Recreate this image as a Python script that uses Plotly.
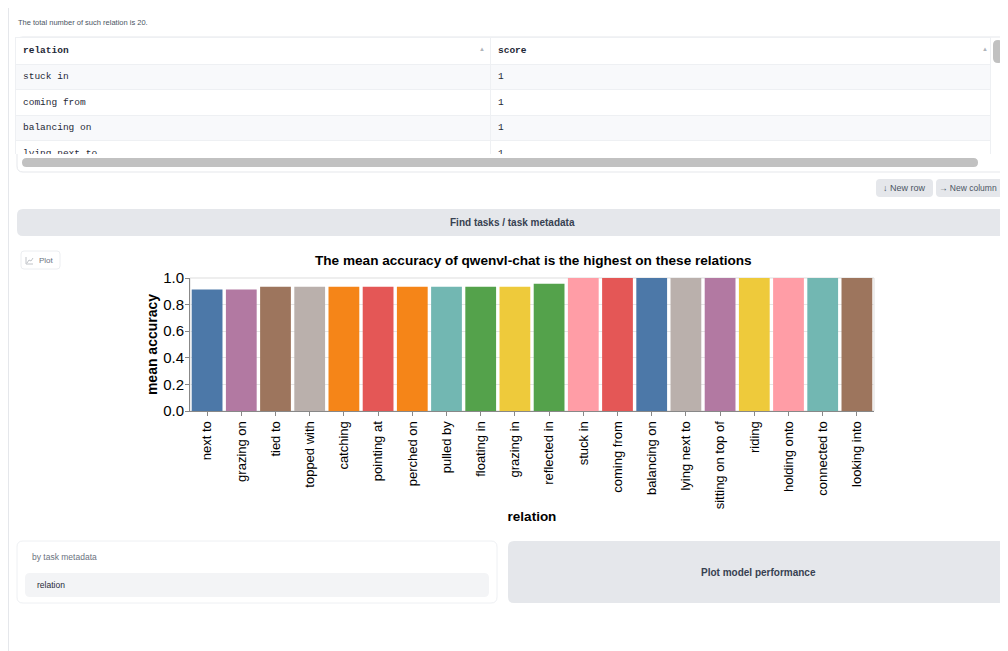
import plotly.graph_objects as go

# ---------------- data ----------------
relations = ["next to", "grazing on", "tied to", "topped with", "catching", "pointing at",
             "perched on", "pulled by", "floating in", "grazing in", "reflected in", "stuck in",
             "coming from", "balancing on", "lying next to", "sitting on top of", "riding",
             "holding onto", "connected to", "looking into"]
mean_accuracy = [0.913, 0.914, 0.935, 0.935, 0.935, 0.935, 0.935, 0.935, 0.935, 0.935, 0.957,
                 1.0, 1.0, 1.0, 1.0, 1.0, 1.0, 1.0, 1.0, 1.0]
y_ticks = [0.0, 0.2, 0.4, 0.6, 0.8, 1.0]
chart_title = "The mean accuracy of qwenvl-chat is the highest on these relations"
info_text = "The total number of such relation is 20."

# styles
bar_colors = ["#4c78a8", "#b279a2", "#9d755d", "#bab0ac", "#f58518", "#e45756", "#f58518",
              "#72b7b2", "#54a24b", "#eeca3b", "#54a24b", "#ff9da6", "#e45756", "#4c78a8",
              "#bab0ac", "#b279a2", "#eeca3b", "#ff9da6", "#72b7b2", "#9d755d"]

# page is offset by the 8px body margin
OFF = 8
W, H = 1008 - OFF, 651 - OFF
SANS = "Liberation Sans, Arial, sans-serif"
MONO = "Liberation Mono, DejaVu Sans Mono, monospace"
UI_TEXT = "#374151"
BORDER = "#e5e7eb"
BTN = "#e5e7eb"

# table rows: sorted by score descending (stable)
order = sorted(range(len(relations)), key=lambda i: -mean_accuracy[i])
table_rel = [relations[i] for i in order]
table_score = [f"{mean_accuracy[i]:g}" for i in order]
stripe = ["#f8f9fb" if k % 2 == 0 else "white" for k in range(len(order))]


def px(x):  # screen x -> paper fraction
    return (x - OFF) / W


def py(y):  # screen y -> paper fraction
    return 1 - (y - OFF) / H


def rrect(x0, y0, x1, y1, r):
    return (f"M {x0+r},{y0} H {x1-r} Q {x1},{y0} {x1},{y0+r} V {y1-r} "
            f"Q {x1},{y1} {x1-r},{y1} H {x0+r} Q {x0},{y1} {x0},{y1-r} "
            f"V {y0+r} Q {x0},{y0} {x0+r},{y0} Z")


fig = go.Figure()

# pixel overlay subplot (x/y) for the surrounding UI, in screen coordinates
fig.add_trace(go.Scatter(x=[], y=[], xaxis="x", yaxis="y", showlegend=False, hoverinfo="skip"))

# bar chart on x2/y2
fig.add_trace(go.Bar(
    x=relations, y=mean_accuracy, xaxis="x2", yaxis="y2",
    marker=dict(color=bar_colors, line=dict(width=0)),
    showlegend=False,
))

# table
fig.add_trace(go.Table(
    domain=dict(x=[px(15), px(990)], y=[py(154), py(37)]),
    columnwidth=[475, 500],
    header=dict(values=["<b>relation</b>", "<b>score</b>"], align="left", height=25,
                fill_color="white", line=dict(color="#eef0f3", width=1),
                font=dict(family=MONO, size=9.5, color="#1f2937")),
    cells=dict(values=[table_rel, table_score], align="left", height=25.5,
               fill_color=[stripe, stripe], line=dict(color="#eef0f3", width=1),
               font=dict(family=MONO, size=9.5, color="#1f2937")),
))

shapes = []
# page left border
shapes.append(dict(type="line", xref="x", yref="y", x0=8.5, x1=8.5, y0=4, y1=651,
                   line=dict(color=BORDER, width=1), layer="below"))
# table frame
shapes.append(dict(type="path", xref="x", yref="y", path=rrect(17, 37, 1006, 172, 6),
                   line=dict(color=BORDER, width=1), fillcolor="white", layer="below"))
# scrollbars
shapes.append(dict(type="path", xref="x", yref="y", path=rrect(22, 158, 978, 167, 4.5),
                   line=dict(width=0), fillcolor="#c1c1c1", layer="below"))
shapes.append(dict(type="path", xref="x", yref="y", path=rrect(993, 40, 1003, 63, 5),
                   line=dict(width=0), fillcolor="#c1c1c1", layer="below"))
# new row / new column buttons
shapes.append(dict(type="path", xref="x", yref="y", path=rrect(876, 179, 933, 197, 4),
                   line=dict(width=0), fillcolor=BTN, layer="below"))
shapes.append(dict(type="path", xref="x", yref="y", path=rrect(936, 179, 1012, 197, 4),
                   line=dict(width=0), fillcolor=BTN, layer="below"))
# find tasks banner
shapes.append(dict(type="path", xref="x", yref="y", path=rrect(17, 209, 1014, 236, 6),
                   line=dict(width=0), fillcolor=BTN, layer="below"))
# plot label box
shapes.append(dict(type="path", xref="x", yref="y", path=rrect(21, 251, 60, 269, 3),
                   line=dict(color="#eceef1", width=1), fillcolor="white", layer="below"))
shapes.append(dict(type="path", xref="x", yref="y",
                   path="M 26,257 V 264 H 33 M 27,263 L 29,260 L 31,261 L 33,258",
                   line=dict(color="#b0b4ba", width=0.8), layer="below"))
# chart plot-area frame
shapes.append(dict(type="rect", xref="x2 domain", yref="y2 domain", x0=0, x1=1, y0=0, y1=1,
                   line=dict(color="#dddddd", width=1), layer="below"))
# bottom section
shapes.append(dict(type="path", xref="x", yref="y", path=rrect(17, 541, 497, 603, 6),
                   line=dict(color="#eef0f3", width=1), fillcolor="white", layer="below"))
shapes.append(dict(type="path", xref="x", yref="y", path=rrect(25, 573, 489, 597, 5),
                   line=dict(width=0), fillcolor="#f3f4f6", layer="below"))
shapes.append(dict(type="path", xref="x", yref="y", path=rrect(508, 541, 1014, 603, 6),
                   line=dict(width=0), fillcolor=BTN, layer="below"))

ann = []


def text(x, y, s, size, color=UI_TEXT, anchor="left", family=SANS, bold=False):
    ann.append(dict(xref="x", yref="y", x=x, y=y, text=s, showarrow=False,
                    xanchor=anchor, yanchor="middle",
                    font=dict(family=family, size=size, color=color,
                              weight="bold" if bold else "normal")))


text(16, 22, info_text, 7.5, color="#4b5563")
text(482, 49, "▲", 6, color="#b0b4ba", anchor="center")
text(985, 49, "▲", 6, color="#b0b4ba", anchor="center")
text(904.5, 188, "↓ New row", 9, color="#4b5563", anchor="center")
text(968, 188, "→ New column", 8.5, color="#4b5563", anchor="center")
text(512.5, 222.5, "Find tasks / task metadata", 10, bold=True, anchor="center")
text(37, 260, "Plot", 8, color="#6b7280")
text(30, 557, "by task metadata", 8.5, color="#6b7280")
text(35, 585, "relation", 8.5, color="#1f2937")
text(758, 572, "Plot model performance", 10, bold=True, anchor="center")
text(533, 260, chart_title, 13.6, color="#000000", anchor="center", bold=True)

fig.update_layout(
    width=W, height=H,
    margin=dict(l=0, r=0, t=0, b=0, autoexpand=False),
    paper_bgcolor="white", plot_bgcolor="rgba(0,0,0,0)",
    bargap=0.1,
    shapes=shapes, annotations=ann,
    xaxis=dict(domain=[0, 1], range=[OFF, OFF + W], visible=False, fixedrange=True),
    yaxis=dict(domain=[0, 1], range=[OFF + H, OFF], visible=False, fixedrange=True),
    xaxis2=dict(domain=[px(190), px(874)], anchor="y2",
                tickangle=-90, tickfont=dict(family=SANS, size=13, color="#000"),
                ticks="outside", ticklen=4, tickcolor="#888", showline=True,
                linecolor="#888", linewidth=1, showgrid=False,
                title=dict(text="relation", standoff=3,
                           font=dict(family=SANS, size=13.5, color="#000", weight="bold"))),
    yaxis2=dict(domain=[py(411), py(278)], anchor="x2", range=[0, 1],
                tickvals=y_ticks, tickformat=".1f",
                tickfont=dict(family=SANS, size=15, color="#000"),
                ticks="outside", ticklen=4, tickcolor="#888", showline=True,
                ticklabelstandoff=-2,
                linecolor="#888", linewidth=1, gridcolor="#e6e6e6", zeroline=False,
                title=dict(text="mean accuracy", standoff=2,
                           font=dict(family=SANS, size=14, color="#000", weight="bold"))),
)

fig.write_html("out.html")
